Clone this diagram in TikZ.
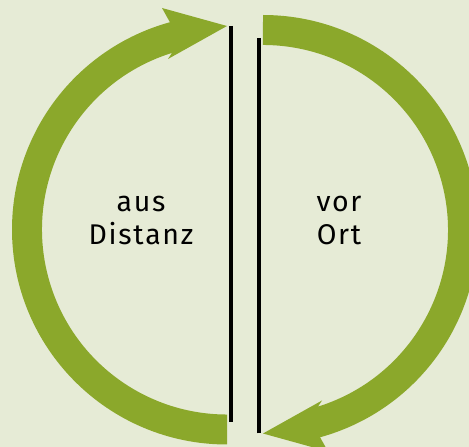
\documentclass[tikz,border=0pt]{standalone}
\usepackage{fontspec}
\setmainfont{Fira Sans}[LetterSpace=6]
\definecolor{bgcol}{HTML}{E6EBD6}
\definecolor{ringgreen}{HTML}{8BA82B}
\tikzset{
  ring/.style={fill=ringgreen, draw=none},
  divider/.style={draw=black, line width=3.4pt, line cap=butt},
  label/.style={anchor=base, inner sep=0pt, font=\fontsize{28.5}{32}\selectfont, text=black}
}
\begin{document}
\begin{tikzpicture}[x=1pt,y=1pt]
  \useasboundingbox (0,0) rectangle (469,447);
  \clip (0,0) rectangle (469,447);
  \fill[bgcol] (0,0) rectangle (469,447);
  % left half ring with arrow head
  \begin{scope}
    \fill[ring] (227,2.5) arc[start angle=270, end angle=105.4, radius=215]
      -- (162,439) -- (227,421) -- (168,388) -- (172,394.1)
      arc[start angle=107.3, end angle=270, radius=185] -- cycle;
    \coordinate (la) at (231,421);
    \coordinate (lb) at (231,25.3);
    \draw[divider] (la) -- (lb);
  \end{scope}
  % right half ring: the same shape turned by 180 degrees
  \begin{scope}[rotate around={180:(245,217.25)}]
    \fill[ring] (227,2.5) arc[start angle=270, end angle=105.4, radius=215]
      -- (162,439) -- (227,421) -- (168,388) -- (172,394.1)
      arc[start angle=107.3, end angle=270, radius=185] -- cycle;
    \coordinate (ra) at (231,421);
    \coordinate (rb) at (231,25.3);
    \draw[divider] (ra) -- (rb);
  \end{scope}
  \node[label] (aus) at (141,235.3) {aus};
  \node[label] (distanz) at (141,202.7) {Distanz};
  \node[label] (vor) at (339,235.3) {vor};
  \node[label] (ort) at (339,202.7) {Ort};
\end{tikzpicture}
\end{document}
